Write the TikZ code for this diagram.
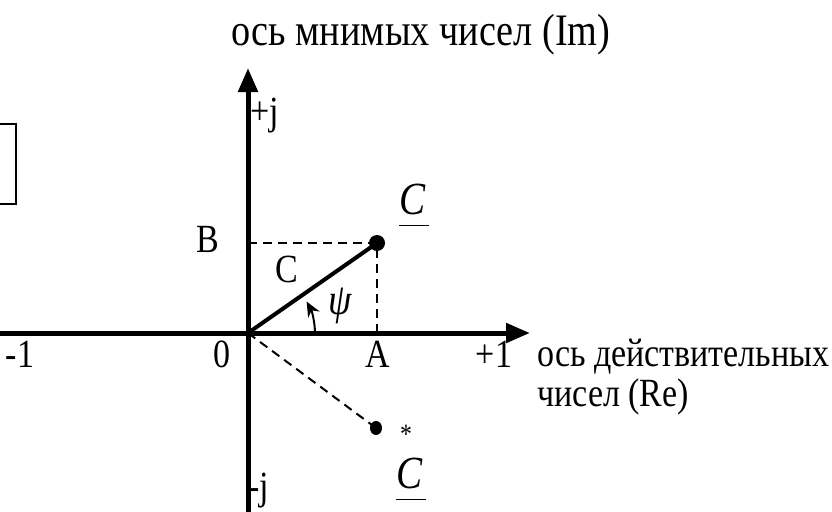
\documentclass[tikz,border=0pt]{standalone}
\usepackage{fontspec}
\setmainfont[FakeStretch=0.85]{Liberation Serif}
\usetikzlibrary{arrows.meta}
\newcommand\ulC{\underline{\vphantom{y}\kern1pt C\kern3pt}}
\begin{document}
\begin{tikzpicture}[x=1pt,y=-1pt,
  axisln/.style={line width=5pt,-{Triangle[length=24pt,width=19pt]}},
  dashln/.style={line width=2pt,dash pattern=on 9pt off 6pt},
  lbl/.style={font=\fontsize{40}{44}\selectfont,inner sep=0pt,anchor=base},
  ilbl/.style={lbl,font=\fontsize{46}{48}\selectfont\itshape}]
\useasboundingbox (0,0) rectangle (832,511);
\coordinate (O) at (248,333);
\coordinate (xs) at (-2,333);
\coordinate (xe) at (530,333);
\coordinate (ys) at (248,515);
\coordinate (ye) at (248,68);
\coordinate (Cpt) at (377,243);
\coordinate (Bpt) at (248,243);
\coordinate (Apt) at (377,333);
\coordinate (Cc) at (376,428);
\coordinate (arcS) at (315,334);
% partial box at left
\draw[line width=2.5pt] (-3,124) -- (16,124) -- (16,204) -- (-3,204);
% axes
\draw[axisln] (xs) -- (xe);
\draw[axisln] (ys) -- (ye);
% dashed projections
\draw[dashln] (Bpt) -- (Cpt) -- (Apt);
\draw[dashln] (O) -- (Cc);
% vector
\draw[line width=4pt] (O) -- (Cpt);
\fill (Cpt) circle (8);
\fill (Cc) ellipse (6 and 7);
% angle
\draw[line width=2pt,-{Stealth[length=15pt,width=13pt]}] (arcS) arc[start angle=0,end angle=-29,radius=67];
% labels
\node[lbl,font=\fontsize{45}{48}\selectfont] (title) at (421,46) {ось мнимых чисел (Im)};
\node[lbl,anchor=base west] (pj) at (250,124) {+j};
\node[lbl,anchor=base west] (mj) at (248,499) {-j};
\node[lbl] (B) at (208,252) {B};
\node[lbl] (Cl) at (287,282) {C};
\node[ilbl,font=\fontsize{44}{46}\selectfont\itshape] (psi) at (340,314) {ψ};
\node[lbl] (A) at (378,367) {A};
\node[lbl] (zero) at (222,367) {0};
\node[lbl] (m1) at (20,367) {-1};
\node[lbl] (p1) at (494,367) {+1};
\node[lbl,anchor=base west] (re1) at (537,366) {ось действительных};
\node[lbl,anchor=base west] (re2) at (537,406) {чисел (Re)};
\node[ilbl] (Cu) at (414,214) {\ulC};
\node[lbl,font=\fontsize{28}{30}\selectfont,anchor=center] (star) at (406,434) {*};
\node[ilbl] (Cd) at (411,488) {\ulC};
\end{tikzpicture}
\end{document}
